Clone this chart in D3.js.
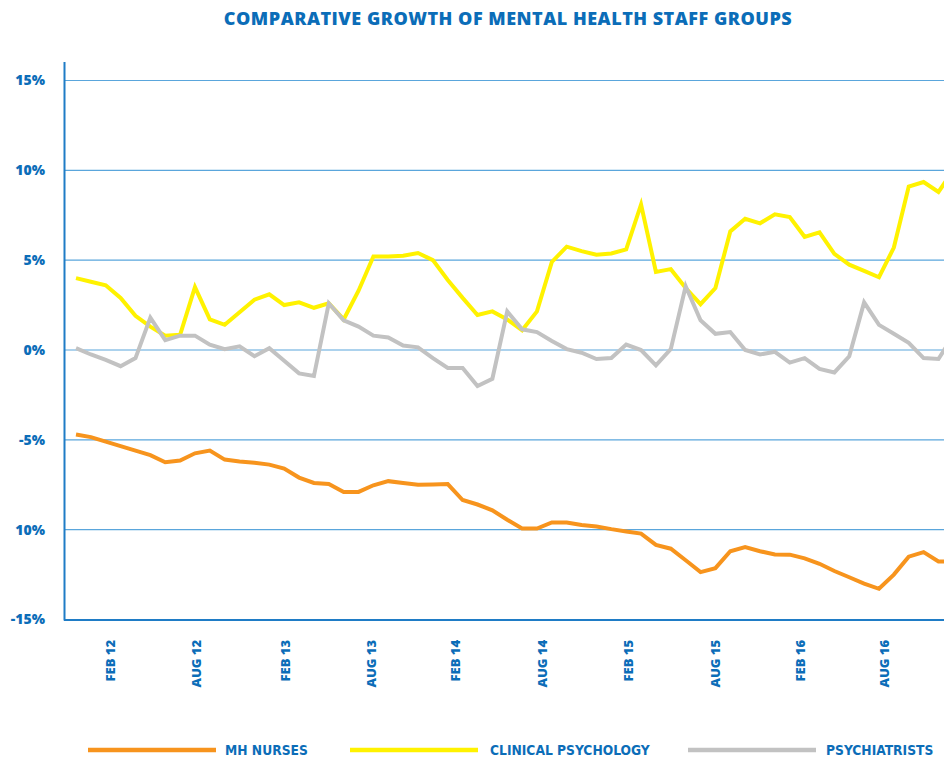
<!DOCTYPE html>
<html>
<head>
<meta charset="utf-8">
<script src="https://cdn.jsdelivr.net/npm/d3@7/dist/d3.min.js"></script>
<style>
  body { margin: 0; background: #fff; }
  text { font-family: "Open Sans", "DejaVu Sans", sans-serif; }
</style>
</head>
<body>
<div id="chart"></div>
<script>
// monthly growth (%) for each staff group
var nurses = [-4.7, -4.85, -5.1, -5.35, -5.6, -5.85, -6.25, -6.15, -5.75, -5.6,
  -6.1, -6.2, -6.28, -6.38, -6.6, -7.1, -7.4, -7.46, -7.9, -7.9,
  -7.53, -7.3, -7.4, -7.5, -7.48, -7.46, -8.35, -8.6, -8.92, -9.45,
  -9.94, -9.94, -9.6, -9.6, -9.74, -9.82, -9.97, -10.1, -10.22, -10.85,
  -11.06, -11.7, -12.36, -12.14, -11.2, -10.97, -11.2, -11.38, -11.39, -11.6,
  -11.9, -12.3, -12.65, -13.0, -13.29, -12.5, -11.5, -11.25, -11.77, -11.77];

var psychology = [4.0, 3.8, 3.6, 2.9, 1.9, 1.3, 0.8, 0.85, 3.5, 1.7,
  1.4, 2.1, 2.8, 3.1, 2.5, 2.65, 2.35, 2.6, 1.7, 3.3,
  5.2, 5.2, 5.25, 5.4, 5.0, 3.9, 2.9, 1.95, 2.15, 1.7,
  1.1, 2.15, 4.9, 5.75, 5.5, 5.3, 5.37, 5.6, 8.1, 4.35,
  4.5, 3.45, 2.55, 3.45, 6.6, 7.3, 7.05, 7.55, 7.4, 6.3,
  6.55, 5.35, 4.75, 4.4, 4.05, 5.7, 9.1, 9.35, 8.8, 10.0];

var psychiatrists = [0.1, -0.25, -0.55, -0.9, -0.45, 1.8, 0.55, 0.8, 0.8, 0.3,
  0.05, 0.2, -0.35, 0.1, -0.6, -1.3, -1.45, 2.6, 1.65, 1.3,
  0.8, 0.7, 0.25, 0.15, -0.45, -1.0, -1.0, -2.0, -1.6, 2.15,
  1.15, 1.0, 0.5, 0.05, -0.15, -0.5, -0.45, 0.3, 0.0, -0.85,
  0.05, 3.55, 1.65, 0.9, 1.0, 0.0, -0.25, -0.1, -0.7, -0.45,
  -1.05, -1.25, -0.35, 2.65, 1.4, 0.9, 0.4, -0.45, -0.5, 0.8];

var tickLabels = ["FEB 12", "AUG 12", "FEB 13", "AUG 13", "FEB 14",
  "AUG 14", "FEB 15", "AUG 15", "FEB 16", "AUG 16"];
// where each label sits along the month index
var tickIndex = [2.29, 8.07, 14.06, 19.84, 25.55, 31.4, 37.12, 42.97, 48.69, 54.4];

var yTicks = [15, 10, 5, 0, -5, -10, -15];
var yTickLabels = ["15%", "10%", "5%", "0%", "-5%", "10%", "-15%"];

var seriesNames = ["MH NURSES", "CLINICAL PSYCHOLOGY", "PSYCHIATRISTS"];
var seriesColors = ["#f7941d", "#fff200", "#c2c2c2"];

var svgWidth = 944;
var svgHeight = 760;
var blue = "#0b6db8";

var svg = d3.select("#chart")
  .append("svg")
  .attr("width", svgWidth)
  .attr("height", svgHeight);

var xScale = d3.scaleLinear()
  .domain([0, 59])
  .range([76, 76 + 59 * 14.87]);

var yScale = d3.scaleLinear()
  .domain([-15, 15])
  .range([619.5, 80.5]);

// Title
svg.append("text")
  .attr("x", 508)
  .attr("y", 25)
  .attr("text-anchor", "middle")
  .style("font-size", "18px")
  .style("font-weight", "800")
  .style("letter-spacing", "0.5px")
  .style("fill", blue)
  .text("COMPARATIVE GROWTH OF MENTAL HEALTH STAFF GROUPS");

// Gridlines
svg.append("g")
  .selectAll("line")
  .data(yTicks.filter(d => d > -15))
  .enter()
  .append("line")
  .attr("x1", 64)
  .attr("x2", svgWidth)
  .attr("y1", d => yScale(d))
  .attr("y2", d => yScale(d))
  .attr("stroke", "#5aa6dc")
  .attr("stroke-width", 1.2);

// Y labels
svg.append("g")
  .selectAll("text")
  .data(yTicks)
  .enter()
  .append("text")
  .attr("x", 45)
  .attr("y", d => yScale(d))
  .attr("dy", "0.35em")
  .attr("text-anchor", "end")
  .style("font-size", "14px")
  .style("font-weight", "800")
  .style("fill", blue)
  .text((d, i) => yTickLabels[i]);

// Axis lines
svg.append("line")
  .attr("x1", 64.5).attr("x2", 64.5)
  .attr("y1", 62).attr("y2", 620.5)
  .attr("stroke", "#1f7cc6").attr("stroke-width", 2);

svg.append("line")
  .attr("x1", 64).attr("x2", svgWidth)
  .attr("y1", 620).attr("y2", 620)
  .attr("stroke", "#1f7cc6").attr("stroke-width", 2);

// X labels (rotated)
svg.append("g")
  .selectAll("text")
  .data(tickIndex)
  .enter()
  .append("text")
  .attr("transform", d => `translate(${xScale(d)}, 640) rotate(-90)`)
  .attr("text-anchor", "end")
  .attr("dy", "0.35em")
  .style("font-size", "13px")
  .style("font-weight", "800")
  .style("fill", blue)
  .text((d, i) => tickLabels[i]);

// Lines
var line = d3.line()
  .x((d, i) => xScale(i))
  .y(d => yScale(d));

var allSeries = [nurses, psychology, psychiatrists];
var drawOrder = [1, 2, 0];

svg.append("g")
  .selectAll("path")
  .data(drawOrder)
  .enter()
  .append("path")
  .attr("d", d => line(allSeries[d]))
  .attr("fill", "none")
  .attr("stroke", d => seriesColors[d])
  .attr("stroke-width", 4)
  .attr("stroke-linejoin", "miter");

// Legend
var legendX = [88, 350, 688];
var legend = svg.append("g")
  .selectAll("g")
  .data(seriesNames)
  .enter()
  .append("g")
  .attr("transform", (d, i) => `translate(${legendX[i]}, 750)`);

legend.append("line")
  .attr("x1", 0).attr("x2", 128)
  .attr("y1", 0).attr("y2", 0)
  .attr("stroke", (d, i) => seriesColors[i])
  .attr("stroke-width", 4.5);

legend.append("text")
  .attr("x", (d, i) => [137, 140, 138][i])
  .attr("dy", "0.35em")
  .style("font-family", '"Liberation Sans Narrow", "DejaVu Sans Condensed", sans-serif')
  .style("font-size", "13.7px")
  .style("font-weight", "700")
  .style("fill", blue)
  .text(d => d);
</script>
</body>
</html>
